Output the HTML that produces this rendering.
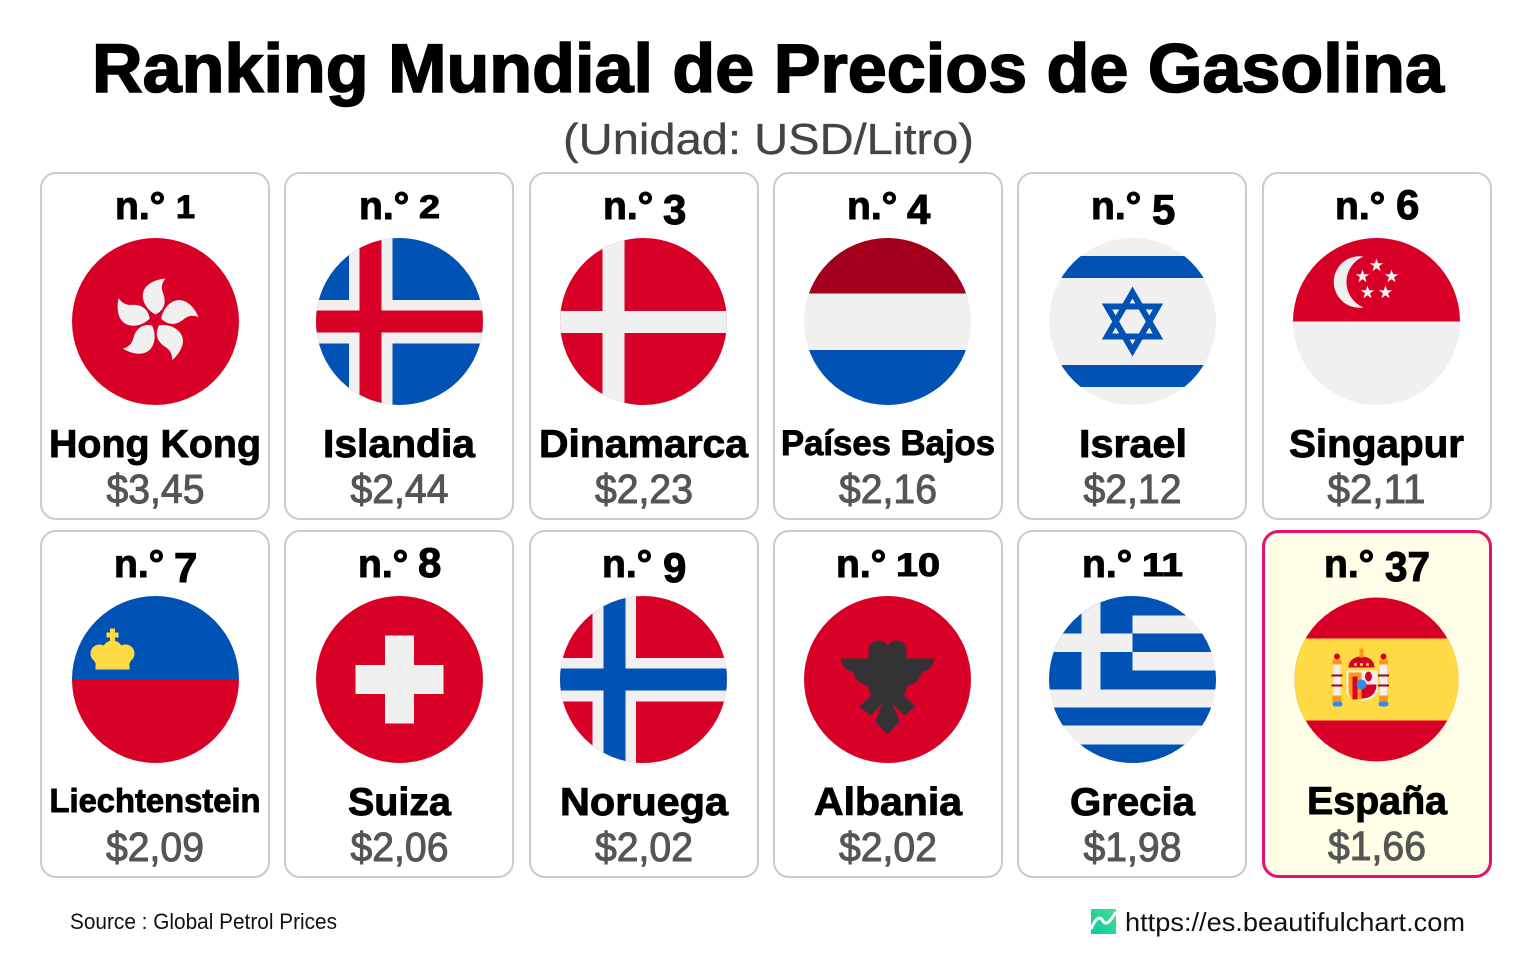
<!DOCTYPE html>
<html lang="es">
<head>
<meta charset="utf-8">
<title>Ranking Mundial de Precios de Gasolina</title>
<style>
html,body{margin:0;padding:0;background:#fff;width:1536px;height:960px;overflow:hidden}
svg{display:block}
text{font-family:"Liberation Sans","Noto Sans CJK JP",sans-serif}
.card{fill:#fff;stroke:#cbcbcb;stroke-width:2}
.rank{font-weight:700;font-size:39px;fill:#000;stroke:#000;stroke-width:1px}
.name{font-weight:700;font-size:39px;fill:#000;text-anchor:middle;stroke:#000;stroke-width:.9px}
.price{font-size:41px;fill:#555;text-anchor:middle;stroke:#555;stroke-width:1px}
.s{font-size:32px}
.t{font-size:42px}
</style>
</head>
<body>
<svg width="1536" height="960" viewBox="0 0 1536 960" xmlns="http://www.w3.org/2000/svg">
<defs>
<clipPath id="c"><circle cx="0" cy="0" r="83.5"/></clipPath>
<clipPath id="cs"><circle cx="0" cy="0" r="82"/></clipPath>
<linearGradient id="lg" x1="1" y1="0" x2="0" y2="1"><stop offset="0" stop-color="#3fe08a"/><stop offset="1" stop-color="#10c8a4"/></linearGradient>
</defs>

<text x="768" y="92" text-anchor="middle" font-size="69" font-weight="700" textLength="1352" lengthAdjust="spacingAndGlyphs" fill="#000" stroke="#000" stroke-width="1.6">Ranking Mundial de Precios de Gasolina</text>
<text x="768.5" y="154" text-anchor="middle" font-size="44" textLength="411" lengthAdjust="spacingAndGlyphs" fill="#444" stroke="#444" stroke-width=".3">(Unidad: USD/Litro)</text>

<!-- Row 1 -->
<g>
<rect class="card" x="41" y="173" width="228" height="346" rx="15"/>
<text class="rank" x="115" y="219">n.° <tspan class="s" x="176" y="218" textLength="19" lengthAdjust="spacingAndGlyphs">1</tspan></text>
<g transform="translate(155.5,321.5)" clip-path="url(#c)">
<rect x="-84" y="-84" width="168" height="168" fill="#d80027"/>
<g fill="#f0f0f0" transform="translate(0,-1)">
<path d="M0-6C-8-10-15-20-12-29C-10-36-1-41 10-42C5-36 6-31 8-26C11-17 8-10 0-6Z"/>
<path transform="rotate(72)" d="M0-6C-8-10-15-20-12-29C-10-36-1-41 10-42C5-36 6-31 8-26C11-17 8-10 0-6Z"/>
<path transform="rotate(144)" d="M0-6C-8-10-15-20-12-29C-10-36-1-41 10-42C5-36 6-31 8-26C11-17 8-10 0-6Z"/>
<path transform="rotate(216)" d="M0-6C-8-10-15-20-12-29C-10-36-1-41 10-42C5-36 6-31 8-26C11-17 8-10 0-6Z"/>
<path transform="rotate(288)" d="M0-6C-8-10-15-20-12-29C-10-36-1-41 10-42C5-36 6-31 8-26C11-17 8-10 0-6Z"/>
</g>
</g>
<text class="name" x="155" y="457" textLength="212" lengthAdjust="spacingAndGlyphs">Hong Kong</text>
<text class="price" x="155.5" y="503" textLength="98" lengthAdjust="spacingAndGlyphs">$3,45</text>
</g>

<g>
<rect class="card" x="285" y="173" width="228" height="346" rx="15"/>
<text class="rank" x="359" y="219">n.° <tspan class="s" x="419" y="218" textLength="21" lengthAdjust="spacingAndGlyphs">2</tspan></text>
<g transform="translate(399.5,321.5)" clip-path="url(#c)">
<rect x="-84" y="-84" width="168" height="168" fill="#0052b4"/>
<rect x="-50.5" y="-84" width="43.5" height="168" fill="#f0f0f0"/>
<rect x="-84" y="-21.5" width="168" height="43.5" fill="#f0f0f0"/>
<rect x="-40" y="-84" width="22" height="168" fill="#d80027"/>
<rect x="-84" y="-11" width="168" height="22" fill="#d80027"/>
</g>
<text class="name" x="399" y="457" textLength="152" lengthAdjust="spacingAndGlyphs">Islandia</text>
<text class="price" x="399.5" y="503" textLength="98" lengthAdjust="spacingAndGlyphs">$2,44</text>
</g>

<g>
<rect class="card" x="530" y="173" width="228" height="346" rx="15"/>
<text class="rank" x="603" y="219">n.° <tspan class="t" x="663" y="224">3</tspan></text>
<g transform="translate(643.5,321.5)" clip-path="url(#c)">
<rect x="-84" y="-84" width="168" height="168" fill="#d80027"/>
<rect x="-41" y="-84" width="22" height="168" fill="#f0f0f0"/>
<rect x="-84" y="-10.5" width="168" height="22" fill="#f0f0f0"/>
</g>
<text class="name" x="643.5" y="457" textLength="209" lengthAdjust="spacingAndGlyphs">Dinamarca</text>
<text class="price" x="644" y="503" textLength="98" lengthAdjust="spacingAndGlyphs">$2,23</text>
</g>

<g>
<rect class="card" x="774" y="173" width="228" height="346" rx="15"/>
<text class="rank" x="847" y="219">n.° <tspan class="t" x="907" y="224">4</tspan></text>
<g transform="translate(887.5,321.5)" clip-path="url(#c)">
<rect x="-84" y="-84" width="168" height="168" fill="#f0f0f0"/>
<rect x="-84" y="-84" width="168" height="56" fill="#a2001d"/>
<rect x="-84" y="28.5" width="168" height="56" fill="#0052b4"/>
</g>
<text class="name" x="888" y="455" style="font-size:35px" textLength="214" lengthAdjust="spacingAndGlyphs">Países Bajos</text>
<text class="price" x="888" y="503" textLength="98" lengthAdjust="spacingAndGlyphs">$2,16</text>
</g>

<g>
<rect class="card" x="1018" y="173" width="228" height="346" rx="15"/>
<text class="rank" x="1091" y="219">n.° <tspan class="t" x="1152" y="224">5</tspan></text>
<g transform="translate(1132.5,321.5)" clip-path="url(#c)">
<rect x="-84" y="-84" width="168" height="168" fill="#f0f0f0"/>
<rect x="-84" y="-65.5" width="168" height="22" fill="#0052b4"/>
<rect x="-84" y="43.5" width="168" height="22" fill="#0052b4"/>
<g fill="none" stroke="#0052b4" stroke-width="6">
<polygon points="0,-29 25.5,15 -25.5,15"/>
<polygon points="0,29 25.5,-15 -25.5,-15"/>
</g>
</g>
<text class="name" x="1133" y="457" textLength="108" lengthAdjust="spacingAndGlyphs">Israel</text>
<text class="price" x="1132.5" y="503" textLength="98" lengthAdjust="spacingAndGlyphs">$2,12</text>
</g>

<g>
<rect class="card" x="1263" y="173" width="228" height="346" rx="15"/>
<text class="rank" x="1335" y="219">n.° <tspan class="t" x="1396" y="219">6</tspan></text>
<g transform="translate(1376.5,321.5)" clip-path="url(#c)">
<rect x="-84" y="-84" width="168" height="168" fill="#f0f0f0"/>
<rect x="-84" y="-84" width="168" height="84" fill="#d80027"/>
<path d="M-13-65A25.800 25.800 0 1 0-13-14A27.600 27.600 0 0 1-13-65Z" fill="#f0f0f0"/>
<g fill="#f0f0f0">
<polygon transform="translate(0,-56)" points="0,-7 1.6,-2.2 6.7,-2.2 2.6,.8 4.1,5.7 0,2.7 -4.1,5.7 -2.6,.8 -6.7,-2.2 -1.6,-2.2"/>
<polygon transform="translate(-14,-45)" points="0,-7 1.6,-2.2 6.7,-2.2 2.6,.8 4.1,5.7 0,2.7 -4.1,5.7 -2.6,.8 -6.7,-2.2 -1.6,-2.2"/>
<polygon transform="translate(15,-45)" points="0,-7 1.6,-2.2 6.7,-2.2 2.6,.8 4.1,5.7 0,2.7 -4.1,5.7 -2.6,.8 -6.7,-2.2 -1.6,-2.2"/>
<polygon transform="translate(-9,-29)" points="0,-7 1.6,-2.2 6.7,-2.2 2.6,.8 4.1,5.7 0,2.7 -4.1,5.7 -2.6,.8 -6.7,-2.2 -1.6,-2.2"/>
<polygon transform="translate(9,-29)" points="0,-7 1.6,-2.2 6.7,-2.2 2.6,.8 4.1,5.7 0,2.7 -4.1,5.7 -2.6,.8 -6.7,-2.2 -1.6,-2.2"/>
</g>
</g>
<text class="name" x="1376.5" y="457" textLength="175" lengthAdjust="spacingAndGlyphs">Singapur</text>
<text class="price" x="1376.5" y="503" textLength="98" lengthAdjust="spacingAndGlyphs">$2,11</text>
</g>

<!-- Row 2 -->
<g>
<rect class="card" x="41" y="531" width="228" height="346" rx="15"/>
<text class="rank" x="114" y="577">n.° <tspan class="t" x="174" y="582">7</tspan></text>
<g transform="translate(155.5,679.5)" clip-path="url(#c)">
<rect x="-84" y="-84" width="168" height="84" fill="#0052b4"/>
<rect x="-84" y="0" width="168" height="84" fill="#d80027"/>
<g fill="#ffda44">
<circle cx="-56" cy="-26" r="9"/>
<circle cx="-30" cy="-26" r="9"/>
<circle cx="-43" cy="-29" r="10"/>
<path d="M-64-24H-22L-27-14H-59Z"/>
<rect x="-60" y="-15" width="34" height="5"/>
<rect x="-45.500" y="-51" width="5" height="14"/>
<rect x="-49" y="-47" width="12" height="5"/>
</g>
</g>
<text class="name" x="155" y="812" style="font-size:33px" textLength="211" lengthAdjust="spacingAndGlyphs">Liechtenstein</text>
<text class="price" x="155" y="861" textLength="98" lengthAdjust="spacingAndGlyphs">$2,09</text>
</g>

<g>
<rect class="card" x="285" y="531" width="228" height="346" rx="15"/>
<text class="rank" x="358" y="577">n.° <tspan class="t" x="418" y="577">8</tspan></text>
<g transform="translate(399.5,679.5)" clip-path="url(#c)">
<rect x="-84" y="-84" width="168" height="168" fill="#d80027"/>
<path d="M-14.5-44H14.5V-14.5H44V14.5H14.5V44H-14.5V14.5H-44V-14.5H-14.5Z" fill="#f0f0f0"/>
</g>
<text class="name" x="399.5" y="815" textLength="103" lengthAdjust="spacingAndGlyphs">Suiza</text>
<text class="price" x="399.5" y="861" textLength="98" lengthAdjust="spacingAndGlyphs">$2,06</text>
</g>

<g>
<rect class="card" x="530" y="531" width="228" height="346" rx="15"/>
<text class="rank" x="602" y="577">n.° <tspan class="t" x="663" y="582">9</tspan></text>
<g transform="translate(643.5,679.5)" clip-path="url(#c)">
<rect x="-84" y="-84" width="168" height="168" fill="#d80027"/>
<rect x="-51" y="-84" width="43.5" height="168" fill="#f0f0f0"/>
<rect x="-84" y="-21.5" width="168" height="43.5" fill="#f0f0f0"/>
<rect x="-40" y="-84" width="22" height="168" fill="#0052b4"/>
<rect x="-84" y="-11" width="168" height="22" fill="#0052b4"/>
</g>
<text class="name" x="644" y="815" textLength="168" lengthAdjust="spacingAndGlyphs">Noruega</text>
<text class="price" x="644" y="861" textLength="98" lengthAdjust="spacingAndGlyphs">$2,02</text>
</g>

<g>
<rect class="card" x="774" y="531" width="228" height="346" rx="15"/>
<text class="rank" x="836" y="577">n.° <tspan class="s" x="896" y="576" textLength="44" lengthAdjust="spacingAndGlyphs">10</tspan></text>
<g transform="translate(887.5,679.5)" clip-path="url(#c)">
<rect x="-84" y="-84" width="168" height="168" fill="#d80027"/>
<g fill="#333">
<circle cx="-9" cy="-29" r="10"/>
<circle cx="9" cy="-29" r="10"/>
<rect x="-19" y="-29" width="38" height="10"/>
<path d="M-47-21H47C45-13 41-9 34-7C33-1 29 4 19 7C19 11 18 14 16 16L28 27L17 36L5 24L12 42L0 55L-12 42L-5 24L-17 36L-28 27L-16 16C-18 14-19 11-19 7C-29 4-33-1-34-7C-41-9-45-13-47-21Z"/>
</g>
</g>
<text class="name" x="888" y="815" textLength="148" lengthAdjust="spacingAndGlyphs">Albania</text>
<text class="price" x="888" y="861" textLength="98" lengthAdjust="spacingAndGlyphs">$2,02</text>
</g>

<g>
<rect class="card" x="1018" y="531" width="228" height="346" rx="15"/>
<text class="rank" x="1082" y="577">n.° <tspan class="s" x="1142" y="576" textLength="41" lengthAdjust="spacingAndGlyphs">11</tspan></text>
<g transform="translate(1132.5,679.5)" clip-path="url(#c)">
<rect x="-84" y="-84" width="168" height="168" fill="#f0f0f0"/>
<rect x="-84" y="-84" width="168" height="20" fill="#0052b4"/>
<rect x="0" y="-46" width="84" height="18.5" fill="#0052b4"/>
<rect x="0" y="-9" width="84" height="19" fill="#0052b4"/>
<rect x="-84" y="-84" width="84" height="94" fill="#0052b4"/>
<rect x="-51" y="-84" width="19" height="94" fill="#f0f0f0"/>
<rect x="-84" y="-46" width="84" height="18.5" fill="#f0f0f0"/>
<rect x="-84" y="28" width="168" height="18" fill="#0052b4"/>
<rect x="-84" y="65" width="168" height="20" fill="#0052b4"/>
</g>
<text class="name" x="1132.5" y="815" textLength="125" lengthAdjust="spacingAndGlyphs">Grecia</text>
<text class="price" x="1132.5" y="861" textLength="98" lengthAdjust="spacingAndGlyphs">$1,98</text>
</g>

<g>
<rect x="1263.5" y="531.5" width="227" height="345" rx="15" fill="#fffee7" stroke="#e8106f" stroke-width="3"/>
<text class="rank" x="1324" y="577">n.° <tspan class="t" x="1385" y="581" textLength="45" lengthAdjust="spacingAndGlyphs">37</tspan></text>
<g transform="translate(1376.5,679.5)" clip-path="url(#cs)">
<rect x="-84" y="-84" width="168" height="168" fill="#d80027"/>
<rect x="-84" y="-41" width="168" height="82" fill="#ffda44"/>
<g>
<rect x="-43" y="-16" width="7" height="38" fill="#f0f0f0"/>
<rect x="3.500" y="-16" width="7" height="38" fill="#f0f0f0"/>
<path d="M-30-9H1V10C1 17-6 21-15 21C-24 21-30 17-30 10Z" fill="#f0f0f0"/>
<path d="M-28-7H-15V20H-23C-27 18-28 14-28 10Z" fill="#ff9811"/>
<path d="M-24-3H-19V20H-24ZM-15 5H0C0 14-6 19-15 19Z" fill="#d80027"/>
<ellipse cx="-8" cy="-3" rx="3.500" ry="5" fill="#d80027"/>
<path d="M-28-12H-2C-2-19-8-23-15-23C-22-23-28-19-28-12Z" fill="#d80027"/>
<circle cx="-21" cy="-15" r="1.500" fill="#ffda44"/>
<circle cx="-15" cy="-15" r="1.500" fill="#ffda44"/>
<circle cx="-9" cy="-15" r="1.500" fill="#ffda44"/>
<rect x="-17" y="-31" width="4" height="9" fill="#ff9811"/>
<rect x="-44" y="-20" width="9" height="5" fill="#ff9811"/>
<rect x="2.500" y="-20" width="9" height="5" fill="#ff9811"/>
<circle cx="-39.500" cy="-23" r="3" fill="#d80027"/>
<circle cx="7" cy="-23" r="3" fill="#d80027"/>
<rect x="-45" y="-5" width="11" height="2" fill="#a2001d"/>
<rect x="1.500" y="-5" width="11" height="2" fill="#a2001d"/>
<rect x="-45" y="5" width="11" height="2" fill="#a2001d"/>
<rect x="1.500" y="5" width="11" height="2" fill="#a2001d"/>
<rect x="-44" y="16" width="9" height="6" fill="#ff9811"/>
<rect x="2.500" y="16" width="9" height="6" fill="#ff9811"/>
<rect x="-44" y="22" width="10" height="5" rx="2.500" fill="#338af3"/>
<rect x="2" y="22" width="10" height="5" rx="2.500" fill="#338af3"/>
<circle cx="-15" cy="5" r="5" fill="#338af3"/>
</g>
</g>
<text class="name" x="1377" y="814" textLength="140" lengthAdjust="spacingAndGlyphs">España</text>
<text class="price" x="1377" y="860" textLength="98" lengthAdjust="spacingAndGlyphs">$1,66</text>
</g>

<!-- Footer -->
<text x="70" y="929" font-size="22" textLength="267" lengthAdjust="spacingAndGlyphs" fill="#111">Source : Global Petrol Prices</text>
<g>
<rect x="1091" y="909" width="25" height="25" fill="url(#lg)"/>
<path d="M1091 929C1096 917 1100 916 1103 921C1106 926 1110 922 1116 912" fill="none" stroke="#fff" stroke-width="3"/>
</g>
<text x="1125" y="931" font-size="26" textLength="340" lengthAdjust="spacingAndGlyphs" fill="#111">https://es.beautifulchart.com</text>
</svg>
</body>
</html>
